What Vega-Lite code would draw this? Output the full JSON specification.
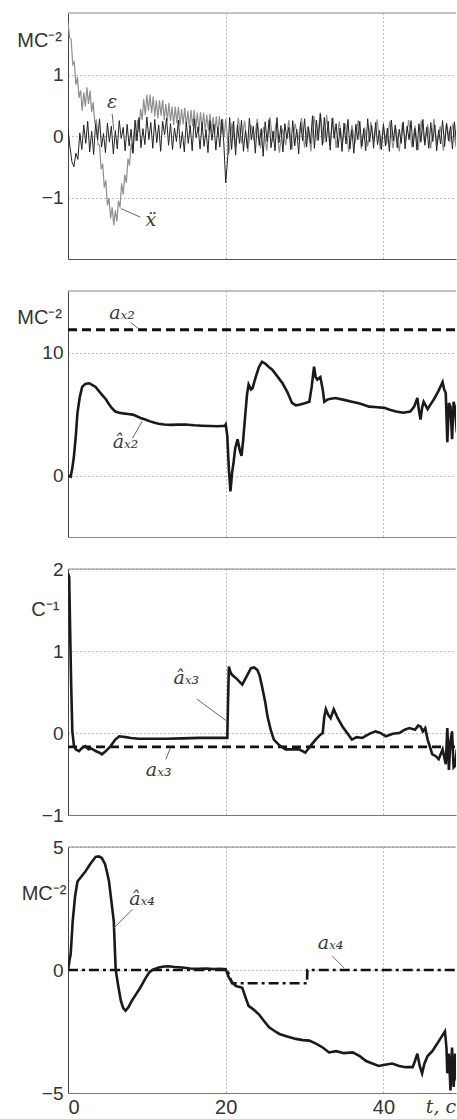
{
"$schema": "https://vega.github.io/schema/vega-lite/v6.json",
"padding": {"left": 17, "top": 12, "right": 0, "bottom": 0},
"autosize": {"type": "pad"},
"bounds": "flush",
"spacing": 32,
"config": {
  "view": {"stroke": null},
  "axis": {"grid": true, "gridDash": [1, 3], "gridColor": "#7a7a7a", "gridOpacity": 1, "gridWidth": 1, "ticks": false, "domainColor": "#444", "domainWidth": 1, "labelFont": "Liberation Sans", "labelFontSize": 19, "labelColor": "#333", "labelPadding": 5, "title": null}
},
"datasets": {
  "eps": [
{"t":0,"v":0.12},{"t":0.25,"v":-0.18},{"t":0.5,"v":-0.42},{"t":0.75,"v":-0.5},{"t":1,"v":-0.28},{"t":1.25,"v":-0.38},{"t":1.5,"v":0.05},{"t":1.75,"v":-0.22},{"t":2,"v":0.18},{"t":2.25,"v":-0.12},
{"t":2.5,"v":0.24},{"t":2.75,"v":-0.26},{"t":3,"v":0.08},{"t":3.25,"v":-0.3},{"t":3.5,"v":0.2},{"t":3.75,"v":-0.06},{"t":4,"v":0.28},{"t":4.25,"v":-0.18},{"t":4.5,"v":0.04},{"t":4.75,"v":-0.27},
{"t":5,"v":0.21},{"t":5.25,"v":-0.1},{"t":5.5,"v":0.16},{"t":5.75,"v":-0.29},{"t":6,"v":0.09},{"t":6.25,"v":-0.21},{"t":6.5,"v":0.25},{"t":6.75,"v":-0.04},{"t":7,"v":0.14},{"t":7.25,"v":-0.24},
{"t":7.5,"v":0.19},{"t":7.75,"v":-0.16},{"t":8,"v":0.11},{"t":8.25,"v":-0.28},{"t":8.5,"v":0.26},{"t":8.75,"v":-0.08},{"t":9,"v":0.3},{"t":9.25,"v":-0.19},{"t":9.5,"v":0.12},{"t":9.75,"v":-0.14},
{"t":10,"v":0.31},{"t":10.25,"v":-0.06},{"t":10.5,"v":0.22},{"t":10.75,"v":-0.2},{"t":11,"v":0.27},{"t":11.25,"v":-0.11},{"t":11.5,"v":0.18},{"t":11.75,"v":-0.25},{"t":12,"v":0.24},{"t":12.25,"v":0.02},
{"t":12.5,"v":0.29},{"t":12.75,"v":-0.15},{"t":13,"v":0.2},{"t":13.25,"v":-0.22},{"t":13.5,"v":0.13},{"t":13.75,"v":-0.09},{"t":14,"v":0.26},{"t":14.25,"v":-0.2},{"t":14.5,"v":0.07},{"t":14.75,"v":-0.26},
{"t":15,"v":0.23},{"t":15.25,"v":-0.12},{"t":15.5,"v":0.17},{"t":15.75,"v":-0.24},{"t":16,"v":0.28},{"t":16.25,"v":-0.03},{"t":16.5,"v":0.15},{"t":16.75,"v":-0.21},{"t":17,"v":0.22},{"t":17.25,"v":-0.17},
{"t":17.5,"v":0.1},{"t":17.75,"v":-0.27},{"t":18,"v":0.25},{"t":18.25,"v":-0.07},{"t":18.5,"v":0.19},{"t":18.75,"v":-0.23},{"t":19,"v":0.14},{"t":19.25,"v":-0.18},{"t":19.5,"v":0.27},{"t":19.75,"v":-0.1},
{"t":20,"v":-0.76},{"t":20.25,"v":-0.35},{"t":20.5,"v":0.3},{"t":20.75,"v":-0.22},{"t":21,"v":0.24},{"t":21.25,"v":-0.31},{"t":21.5,"v":0.18},{"t":21.75,"v":-0.12},{"t":22,"v":0.26},{"t":22.25,"v":-0.25},
{"t":22.5,"v":0.09},{"t":22.75,"v":-0.2},{"t":23,"v":0.29},{"t":23.25,"v":-0.06},{"t":23.5,"v":0.16},{"t":23.75,"v":-0.28},{"t":24,"v":0.21},{"t":24.25,"v":-0.15},{"t":24.5,"v":0.12},{"t":24.75,"v":-0.33},
{"t":25,"v":0.23},{"t":25.25,"v":-0.09},{"t":25.5,"v":0.27},{"t":25.75,"v":-0.19},{"t":26,"v":0.08},{"t":26.25,"v":-0.24},{"t":26.5,"v":0.3},{"t":26.75,"v":-0.11},{"t":27,"v":0.17},{"t":27.25,"v":-0.26},
{"t":27.5,"v":0.2},{"t":27.75,"v":-0.05},{"t":28,"v":0.14},{"t":28.25,"v":-0.22},{"t":28.5,"v":0.25},{"t":28.75,"v":-0.16},{"t":29,"v":0.11},{"t":29.25,"v":-0.29},{"t":29.5,"v":0.22},{"t":29.75,"v":-0.08},
{"t":30,"v":0.28},{"t":30.25,"v":-0.18},{"t":30.5,"v":0.15},{"t":30.75,"v":-0.12},{"t":31,"v":0.33},{"t":31.25,"v":-0.2},{"t":31.5,"v":0.26},{"t":31.75,"v":-0.07},{"t":32,"v":0.36},{"t":32.25,"v":-0.15},
{"t":32.5,"v":0.3},{"t":32.75,"v":-0.1},{"t":33,"v":0.24},{"t":33.25,"v":-0.23},{"t":33.5,"v":0.29},{"t":33.75,"v":-0.04},{"t":34,"v":0.2},{"t":34.25,"v":-0.19},{"t":34.5,"v":0.13},{"t":34.75,"v":-0.25},
{"t":35,"v":0.21},{"t":35.25,"v":-0.13},{"t":35.5,"v":0.27},{"t":35.75,"v":-0.21},{"t":36,"v":0.1},{"t":36.25,"v":-0.28},{"t":36.5,"v":0.19},{"t":36.75,"v":-0.06},{"t":37,"v":0.24},{"t":37.25,"v":-0.17},
{"t":37.5,"v":0.12},{"t":37.75,"v":-0.24},{"t":38,"v":0.28},{"t":38.25,"v":-0.1},{"t":38.5,"v":0.17},{"t":38.75,"v":-0.2},{"t":39,"v":0.22},{"t":39.25,"v":-0.14},{"t":39.5,"v":0.09},{"t":39.75,"v":-0.22},
{"t":40,"v":0.2},{"t":40.25,"v":-0.16},{"t":40.5,"v":0.13},{"t":40.75,"v":-0.25},{"t":41,"v":0.26},{"t":41.25,"v":-0.08},{"t":41.5,"v":0.18},{"t":41.75,"v":-0.19},{"t":42,"v":0.11},{"t":42.25,"v":-0.12},
{"t":42.5,"v":0.23},{"t":42.75,"v":-0.21},{"t":43,"v":0.16},{"t":43.25,"v":-0.06},{"t":43.5,"v":0.25},{"t":43.75,"v":-0.18},{"t":44,"v":0.12},{"t":44.25,"v":-0.23},{"t":44.5,"v":0.2},{"t":44.75,"v":-0.1},
{"t":45,"v":0.27},{"t":45.25,"v":-0.15},{"t":45.5,"v":0.14},{"t":45.75,"v":-0.2},{"t":46,"v":0.22},{"t":46.25,"v":-0.09},{"t":46.5,"v":0.18},{"t":46.75,"v":-0.24},{"t":47,"v":0.1},{"t":47.25,"v":-0.13},
{"t":47.5,"v":0.25},{"t":47.75,"v":-0.17},{"t":48,"v":0.2},{"t":48.25,"v":-0.08},{"t":48.5,"v":0.16},{"t":48.75,"v":-0.21},{"t":49,"v":0.23},{"t":49.25,"v":-0.11}
  ],
  "xdd": [
{"t":0,"v":1.85},{"t":0.2,"v":1.6},{"t":0.4,"v":1.57},{"t":0.6,"v":1.16},{"t":0.8,"v":1.2},{"t":1,"v":0.83},{"t":1.2,"v":0.96},{"t":1.4,"v":0.62},{"t":1.6,"v":0.74},{"t":1.8,"v":0.41},
{"t":2,"v":0.71},{"t":2.2,"v":0.48},{"t":2.4,"v":0.79},{"t":2.6,"v":0.52},{"t":2.8,"v":0.74},{"t":3,"v":0.39},{"t":3.2,"v":0.55},{"t":3.4,"v":0.2},{"t":3.6,"v":0.27},{"t":3.8,"v":-0.14},
{"t":4,"v":-0.15},{"t":4.2,"v":-0.54},{"t":4.4,"v":-0.45},{"t":4.6,"v":-0.84},{"t":4.8,"v":-0.72},{"t":5,"v":-1.13},{"t":5.2,"v":-1.01},{"t":5.4,"v":-1.34},{"t":5.6,"v":-1.16},{"t":5.8,"v":-1.45},
{"t":6,"v":-1.21},{"t":6.2,"v":-1.39},{"t":6.4,"v":-1.05},{"t":6.6,"v":-1.16},{"t":6.8,"v":-0.77},{"t":7,"v":-0.95},{"t":7.2,"v":-0.63},{"t":7.4,"v":-0.76},{"t":7.6,"v":-0.37},{"t":7.8,"v":-0.48},
{"t":8,"v":-0.12},{"t":8.2,"v":-0.28},{"t":8.4,"v":0.1},{"t":8.6,"v":-0.08},{"t":8.8,"v":0.26},{"t":9,"v":0.07},{"t":9.2,"v":0.44},{"t":9.4,"v":0.26},{"t":9.6,"v":0.6},{"t":9.8,"v":0.34},
{"t":10,"v":0.67},{"t":10.2,"v":0.41},{"t":10.4,"v":0.67},{"t":10.6,"v":0.37},{"t":10.8,"v":0.64},{"t":11,"v":0.32},{"t":11.2,"v":0.58},{"t":11.4,"v":0.29},{"t":11.6,"v":0.58},{"t":11.8,"v":0.33},
{"t":12,"v":0.59},{"t":12.2,"v":0.26},{"t":12.4,"v":0.52},{"t":12.6,"v":0.25},{"t":12.8,"v":0.54},{"t":13,"v":0.24},{"t":13.2,"v":0.48},{"t":13.4,"v":0.18},{"t":13.6,"v":0.48},{"t":13.8,"v":0.21},
{"t":14,"v":0.48},{"t":14.2,"v":0.17},{"t":14.4,"v":0.44},{"t":14.6,"v":0.19},{"t":14.8,"v":0.46},{"t":15,"v":0.16},{"t":15.2,"v":0.41},{"t":15.4,"v":0.13},{"t":15.6,"v":0.42},{"t":15.8,"v":0.16},
{"t":16,"v":0.42},{"t":16.2,"v":0.12},{"t":16.4,"v":0.38},{"t":16.6,"v":0.08},{"t":16.8,"v":0.39},{"t":17,"v":0.12},{"t":17.2,"v":0.38},{"t":17.4,"v":0.08},{"t":17.6,"v":0.35},{"t":17.8,"v":0.09},
{"t":18,"v":0.36},{"t":18.2,"v":0.06},{"t":18.4,"v":0.31},{"t":18.6,"v":0.03},{"t":18.8,"v":0.32},{"t":19,"v":0.05},{"t":19.2,"v":0.32},{"t":19.4,"v":0.02},{"t":19.6,"v":0.27},{"t":19.8,"v":-0.02},
{"t":20,"v":0.28},{"t":20.4,"v":-0.3},{"t":20.8,"v":0.22},{"t":21.2,"v":-0.18},{"t":21.6,"v":0.3},{"t":22,"v":-0.12},{"t":22.4,"v":0.25},{"t":22.8,"v":-0.26},{"t":23.2,"v":0.18},{"t":23.6,"v":-0.08},
{"t":24,"v":0.28},{"t":24.4,"v":-0.2},{"t":24.8,"v":0.15},{"t":25.2,"v":-0.24},{"t":25.6,"v":0.31},{"t":26,"v":-0.1},{"t":26.4,"v":0.22},{"t":26.8,"v":-0.27},{"t":27.2,"v":0.12},{"t":27.6,"v":-0.15},
{"t":28,"v":0.26},{"t":28.4,"v":-0.22},{"t":28.8,"v":0.2},{"t":29.2,"v":-0.06},{"t":29.6,"v":0.29},{"t":30,"v":-0.19},{"t":30.4,"v":0.16},{"t":30.8,"v":-0.25},{"t":31.2,"v":0.33},{"t":31.6,"v":-0.08},
{"t":32,"v":0.38},{"t":32.4,"v":-0.12},{"t":32.8,"v":0.34},{"t":33.2,"v":-0.16},{"t":33.6,"v":0.3},{"t":34,"v":-0.2},{"t":34.4,"v":0.24},{"t":34.8,"v":-0.1},{"t":35.2,"v":0.2},{"t":35.6,"v":-0.26},
{"t":36,"v":0.18},{"t":36.4,"v":-0.12},{"t":36.8,"v":0.26},{"t":37.2,"v":-0.21},{"t":37.6,"v":0.14},{"t":38,"v":-0.17},{"t":38.4,"v":0.23},{"t":38.8,"v":-0.09},{"t":39.2,"v":0.27},{"t":39.6,"v":-0.22},
{"t":40,"v":0.15},{"t":40.4,"v":-0.14},{"t":40.8,"v":0.24},{"t":41.2,"v":-0.2},{"t":41.6,"v":0.12},{"t":42,"v":-0.25},{"t":42.4,"v":0.21},{"t":42.8,"v":-0.07},{"t":43.2,"v":0.26},{"t":43.6,"v":-0.18},
{"t":44,"v":0.17},{"t":44.4,"v":-0.23},{"t":44.8,"v":0.25},{"t":45.2,"v":-0.11},{"t":45.6,"v":0.19},{"t":46,"v":-0.2},{"t":46.4,"v":0.28},{"t":46.8,"v":-0.14},{"t":47.2,"v":0.16},{"t":47.6,"v":-0.24},
{"t":48,"v":0.22},{"t":48.4,"v":-0.1},{"t":48.8,"v":0.2},{"t":49.2,"v":-0.18}
  ],
  "a2": [
{"t":0,"v":0},{"t":0.34,"v":-0.1},{"t":0.55,"v":0.6},{"t":0.76,"v":1.6},{"t":1,"v":3.3},{"t":1.2,"v":5.1},{"t":1.5,"v":6.4},{"t":1.8,"v":7.2},{"t":2.2,"v":7.45},{"t":2.7,"v":7.5},
{"t":3.1,"v":7.35},{"t":3.5,"v":7.2},{"t":4,"v":6.8},{"t":4.4,"v":6.5},{"t":4.8,"v":6.2},{"t":5.2,"v":5.8},{"t":5.6,"v":5.45},{"t":6,"v":5.2},{"t":6.5,"v":5.1},{"t":7,"v":5.05},
{"t":7.6,"v":5},{"t":8.2,"v":4.95},{"t":8.8,"v":4.8},{"t":9.3,"v":4.65},{"t":9.8,"v":4.55},{"t":10.4,"v":4.4},{"t":11,"v":4.28},{"t":11.5,"v":4.2},{"t":12.2,"v":4.15},{"t":13,"v":4.12},
{"t":14,"v":4.14},{"t":14.9,"v":4.15},{"t":16,"v":4.08},{"t":17,"v":4.05},{"t":18,"v":4.02},{"t":19,"v":4},{"t":19.9,"v":4.05},{"t":20,"v":4.15},{"t":20.2,"v":3.2},{"t":20.4,"v":0.5},
{"t":20.6,"v":-1.3},{"t":20.8,"v":0.2},{"t":21,"v":1.1},{"t":21.2,"v":2.2},{"t":21.5,"v":2.95},{"t":21.8,"v":2},{"t":22,"v":1.6},{"t":22.2,"v":2.8},{"t":22.5,"v":5.1},{"t":22.7,"v":6.6},
{"t":22.9,"v":7.4},{"t":23.2,"v":7},{"t":23.4,"v":7.1},{"t":23.8,"v":8},{"t":24.2,"v":8.8},{"t":24.6,"v":9.25},{"t":25,"v":9.1},{"t":25.5,"v":8.8},{"t":25.9,"v":8.6},{"t":26.5,"v":8.1},
{"t":27.2,"v":7.5},{"t":27.8,"v":6.8},{"t":28.4,"v":5.9},{"t":28.9,"v":5.7},{"t":29.3,"v":5.75},{"t":29.9,"v":5.85},{"t":30.6,"v":6},{"t":30.9,"v":7.2},{"t":31.2,"v":8.85},{"t":31.4,"v":8},
{"t":31.6,"v":7.8},{"t":32,"v":8},{"t":32.3,"v":7},{"t":32.5,"v":6},{"t":33,"v":6.2},{"t":33.9,"v":6.3},{"t":35,"v":6.15},{"t":36,"v":6},{"t":37,"v":5.85},{"t":38.2,"v":5.6},
{"t":39.2,"v":5.55},{"t":40.1,"v":5.5},{"t":40.8,"v":5.35},{"t":41.6,"v":5.2},{"t":42.5,"v":5.1},{"t":43.4,"v":5.2},{"t":43.9,"v":5.6},{"t":44.3,"v":6.3},{"t":44.5,"v":5.3},{"t":44.7,"v":4.55},
{"t":44.9,"v":5.5},{"t":45.1,"v":6},{"t":45.6,"v":5.4},{"t":46,"v":5.8},{"t":46.4,"v":6.2},{"t":47,"v":6.9},{"t":47.5,"v":7.6},{"t":47.7,"v":7},{"t":47.9,"v":6.7},{"t":48.1,"v":2.7},
{"t":48.3,"v":5.9},{"t":48.5,"v":5.6},{"t":48.7,"v":2.95},{"t":48.9,"v":6},{"t":49.1,"v":5.4},{"t":49.3,"v":3.5}
  ],
  "a3": [
{"t":0,"v":1.95},{"t":0.15,"v":1.9},{"t":0.3,"v":1.1},{"t":0.4,"v":0.6},{"t":0.55,"v":0.02},{"t":0.76,"v":-0.16},{"t":1,"v":-0.2},{"t":1.4,"v":-0.22},{"t":1.8,"v":-0.18},{"t":2.2,"v":-0.16},
{"t":2.6,"v":-0.2},{"t":3,"v":-0.19},{"t":3.5,"v":-0.22},{"t":4,"v":-0.24},{"t":4.3,"v":-0.26},{"t":4.8,"v":-0.22},{"t":5.4,"v":-0.16},{"t":6,"v":-0.08},{"t":6.5,"v":-0.04},{"t":7.3,"v":-0.05},
{"t":8,"v":-0.06},{"t":9,"v":-0.07},{"t":10.5,"v":-0.07},{"t":12.4,"v":-0.07},{"t":14.5,"v":-0.065},{"t":16.6,"v":-0.06},{"t":18.5,"v":-0.06},{"t":20,"v":-0.06},{"t":20.2,"v":-0.06},{"t":20.3,"v":0.4},
{"t":20.4,"v":0.81},{"t":20.6,"v":0.74},{"t":20.8,"v":0.71},{"t":21.4,"v":0.66},{"t":22.1,"v":0.59},{"t":22.7,"v":0.7},{"t":23.2,"v":0.79},{"t":23.6,"v":0.8},{"t":24,"v":0.77},{"t":24.3,"v":0.7},
{"t":24.6,"v":0.57},{"t":25,"v":0.38},{"t":25.3,"v":0.2},{"t":25.7,"v":0.04},{"t":26.1,"v":-0.08},{"t":26.8,"v":-0.15},{"t":27.6,"v":-0.2},{"t":28.5,"v":-0.2},{"t":29.3,"v":-0.2},{"t":30.1,"v":-0.24},
{"t":30.8,"v":-0.15},{"t":31.4,"v":-0.08},{"t":32,"v":-0.02},{"t":32.3,"v":0},{"t":32.5,"v":0.2},{"t":32.7,"v":0.29},{"t":33,"v":0.22},{"t":33.3,"v":0.18},{"t":33.7,"v":0.29},{"t":34.2,"v":0.18},
{"t":34.8,"v":0.08},{"t":35.4,"v":0},{"t":36,"v":-0.08},{"t":36.6,"v":-0.05},{"t":37.3,"v":-0.06},{"t":38.2,"v":-0.01},{"t":39,"v":0.02},{"t":39.6,"v":0},{"t":40.3,"v":-0.04},{"t":41.2,"v":-0.01},
{"t":42,"v":0},{"t":42.7,"v":0.04},{"t":43.3,"v":0.06},{"t":44,"v":0.04},{"t":44.4,"v":0.09},{"t":44.7,"v":0.08},{"t":45,"v":0.02},{"t":45.3,"v":0.06},{"t":45.6,"v":-0.08},{"t":46.2,"v":-0.26},
{"t":46.6,"v":-0.28},{"t":47,"v":-0.32},{"t":47.5,"v":-0.2},{"t":47.9,"v":-0.38},{"t":48.1,"v":0.06},{"t":48.3,"v":-0.45},{"t":48.5,"v":-0.1},{"t":48.7,"v":0.02},{"t":48.9,"v":-0.42},{"t":49.1,"v":-0.4},
{"t":49.3,"v":-0.2}
  ],
  "a4": [
{"t":0,"v":0},{"t":0.2,"v":0.4},{"t":0.34,"v":0.65},{"t":0.6,"v":2},{"t":0.9,"v":3},{"t":1.2,"v":3.6},{"t":1.7,"v":3.8},{"t":2.2,"v":4},{"t":2.8,"v":4.3},{"t":3.5,"v":4.6},
{"t":3.9,"v":4.62},{"t":4.3,"v":4.55},{"t":4.7,"v":4.3},{"t":5,"v":3.9},{"t":5.2,"v":3.6},{"t":5.5,"v":2.8},{"t":5.8,"v":2},{"t":6.05,"v":0},{"t":6.4,"v":-0.7},{"t":6.7,"v":-1.25},
{"t":7,"v":-1.55},{"t":7.3,"v":-1.66},{"t":7.7,"v":-1.5},{"t":8.1,"v":-1.25},{"t":8.6,"v":-1},{"t":9.2,"v":-0.7},{"t":9.8,"v":-0.35},{"t":10.3,"v":-0.1},{"t":10.7,"v":0},{"t":11.5,"v":0.1},
{"t":12.2,"v":0.14},{"t":12.8,"v":0.15},{"t":13.5,"v":0.12},{"t":14.5,"v":0.1},{"t":15.5,"v":0.06},{"t":16.6,"v":0.05},{"t":17.5,"v":0.06},{"t":18.5,"v":0.04},{"t":19.3,"v":0.05},{"t":20,"v":0.03},
{"t":20.4,"v":-0.3},{"t":20.8,"v":-0.5},{"t":21.3,"v":-0.65},{"t":22.1,"v":-0.72},{"t":22.5,"v":-1.1},{"t":22.9,"v":-1.46},{"t":23.5,"v":-1.6},{"t":24.2,"v":-1.8},{"t":24.8,"v":-2.05},{"t":25.5,"v":-2.33},
{"t":26.2,"v":-2.48},{"t":26.8,"v":-2.6},{"t":27.8,"v":-2.7},{"t":28.9,"v":-2.8},{"t":29.8,"v":-2.85},{"t":30.6,"v":-2.87},{"t":31.5,"v":-3},{"t":32.3,"v":-3.15},{"t":33.1,"v":-3.35},{"t":34,"v":-3.3},
{"t":35,"v":-3.38},{"t":36.1,"v":-3.35},{"t":37,"v":-3.5},{"t":37.8,"v":-3.7},{"t":38.6,"v":-3.8},{"t":39.4,"v":-3.9},{"t":40.2,"v":-3.85},{"t":41.1,"v":-3.8},{"t":42,"v":-3.9},{"t":42.8,"v":-3.95},
{"t":43.7,"v":-3.95},{"t":44,"v":-3.7},{"t":44.3,"v":-3.4},{"t":44.6,"v":-3.9},{"t":44.9,"v":-4.2},{"t":45.2,"v":-3.8},{"t":45.6,"v":-3.5},{"t":46.2,"v":-3.3},{"t":46.6,"v":-3.1},{"t":47,"v":-2.9},
{"t":47.4,"v":-2.7},{"t":47.8,"v":-2.5},{"t":48,"v":-3.2},{"t":48.1,"v":-4.2},{"t":48.3,"v":-3.4},{"t":48.5,"v":-4.9},{"t":48.7,"v":-3.15},{"t":48.9,"v":-4.75},{"t":49.1,"v":-3.4},{"t":49.3,"v":-4.5}
  ],
  "refs": [
{"p":2,"t":0,"v":11.85},{"p":2,"t":49.2,"v":11.85},
{"p":3,"t":0,"v":-0.17},{"p":3,"t":49.2,"v":-0.17},
{"p":4,"t":0,"v":0},{"p":4,"t":20.2,"v":0},{"p":4,"t":20.8,"v":-0.54},{"p":4,"t":30.3,"v":-0.54},{"p":4,"t":30.35,"v":0},{"p":4,"t":49.2,"v":0}
  ],
  "frame": [
{"p":1,"t":0,"t2":49.2,"v":2},{"p":2,"t":0,"t2":49.2,"v":15},{"p":3,"t":0,"t2":49.2,"v":2},{"p":4,"t":0,"t2":49.2,"v":5}
  ],
  "leaders": [
{"p":1,"t":5.6,"v":0.36,"t2":5.8,"v2":0.1},{"p":1,"t":6.7,"v":-1.18,"t2":9.2,"v2":-1.32},
{"p":2,"t":7.95,"v":12.45,"t2":9.0,"v2":11.9},{"p":2,"t":8.2,"v":3.05,"t2":9.4,"v2":4.4},
{"p":3,"t":16.4,"v":0.41,"t2":20.2,"v2":0.14},{"p":3,"t":12.4,"v":-0.32,"t2":13.0,"v2":-0.18},
{"p":4,"t":8.15,"v":2.46,"t2":5.8,"v2":1.7},{"p":4,"t":33.5,"v":0.57,"t2":35.0,"v2":0.09}
  ],
  "labels": [
{"p":1,"t":5.6,"v":0.55,"text":"ε"},{"p":1,"t":10.5,"v":-1.36,"text":"ẍ"},
{"p":2,"t":6.85,"v":13.2,"text":"aₓ₂"},{"p":2,"t":7.3,"v":2.7,"text":"âₓ₂"},
{"p":3,"t":15.0,"v":0.67,"text":"âₓ₃"},{"p":3,"t":11.5,"v":-0.45,"text":"aₓ₃"},
{"p":4,"t":9.4,"v":2.9,"text":"âₓ₄"},{"p":4,"t":33.3,"v":1.1,"text":"aₓ₄"},{"p":4,"t":47.3,"v":-5.55,"text":"t, с"}
  ],
  "units": [
{"p":1,"t":-0.76,"v":1.54,"text":"МС⁻²"},{"p":2,"t":-0.76,"v":12.8,"text":"МС⁻²"},{"p":3,"t":-1.1,"v":1.5,"text":"С⁻¹"},{"p":4,"t":-0.2,"v":3.08,"text":"МС⁻²"}
  ]
},
"vconcat": [
{
 "width": 388, "height": 246,
 "encoding": {
  "x": {"field": "t", "type": "quantitative", "scale": {"domain": [0, 49.2], "nice": false, "zero": false}, "axis": {"values": [0, 20, 40], "labels": false, "domainColor": "#555"}},
  "y": {"field": "v", "type": "quantitative", "scale": {"domain": [-2, 2], "nice": false, "zero": false}, "axis": {"values": [-1, 0, 1]}}
 },
 "layer": [
  {"data": {"name": "frame"}, "transform": [{"filter": "datum.p == 1"}], "mark": {"type": "rule", "color": "#888", "strokeWidth": 1}, "encoding": {"x2": {"field": "t2"}}},
  {"data": {"name": "xdd"}, "mark": {"type": "line", "color": "#8f8f8f", "strokeWidth": 1.2, "clip": true}},
  {"data": {"name": "eps"}, "mark": {"type": "line", "color": "#222", "strokeWidth": 1, "clip": true}},
  {"data": {"name": "leaders"}, "transform": [{"filter": "datum.p == 1"}], "mark": {"type": "rule", "color": "#666", "strokeWidth": 1}, "encoding": {"x2": {"field": "t2"}, "y2": {"field": "v2"}}},
  {"data": {"name": "labels"}, "transform": [{"filter": "datum.p == 1"}], "mark": {"type": "text", "font": "DejaVu Serif", "fontStyle": "italic", "fontSize": 19, "color": "#3a3a3a"}, "encoding": {"text": {"field": "text"}}},
  {"data": {"name": "units"}, "transform": [{"filter": "datum.p == 1"}], "mark": {"type": "text", "align": "right", "font": "Liberation Sans", "fontSize": 20, "color": "#333"}, "encoding": {"text": {"field": "text"}}}
 ]
},
{
 "width": 388, "height": 246,
 "encoding": {
  "x": {"field": "t", "type": "quantitative", "scale": {"domain": [0, 49.2], "nice": false, "zero": false}, "axis": {"values": [0, 20, 40], "labels": false, "domainColor": "#888"}},
  "y": {"field": "v", "type": "quantitative", "scale": {"domain": [-5, 15], "nice": false, "zero": false}, "axis": {"values": [0, 10]}}
 },
 "layer": [
  {"data": {"name": "frame"}, "transform": [{"filter": "datum.p == 2"}], "mark": {"type": "rule", "color": "#888", "strokeWidth": 1}, "encoding": {"x2": {"field": "t2"}}},
  {"data": {"name": "refs"}, "transform": [{"filter": "datum.p == 2"}], "mark": {"type": "line", "color": "#111", "strokeWidth": 2.8, "strokeDash": [9, 5], "clip": true}},
  {"data": {"name": "a2"}, "mark": {"type": "line", "color": "#1a1a1a", "strokeWidth": 2.6, "clip": true}},
  {"data": {"name": "leaders"}, "transform": [{"filter": "datum.p == 2"}], "mark": {"type": "rule", "color": "#666", "strokeWidth": 1}, "encoding": {"x2": {"field": "t2"}, "y2": {"field": "v2"}}},
  {"data": {"name": "labels"}, "transform": [{"filter": "datum.p == 2"}], "mark": {"type": "text", "font": "DejaVu Serif", "fontStyle": "italic", "fontSize": 19, "color": "#3a3a3a"}, "encoding": {"text": {"field": "text"}}},
  {"data": {"name": "units"}, "transform": [{"filter": "datum.p == 2"}], "mark": {"type": "text", "align": "right", "font": "Liberation Sans", "fontSize": 20, "color": "#333"}, "encoding": {"text": {"field": "text"}}}
 ]
},
{
 "width": 388, "height": 246,
 "encoding": {
  "x": {"field": "t", "type": "quantitative", "scale": {"domain": [0, 49.2], "nice": false, "zero": false}, "axis": {"values": [0, 20, 40], "labels": false, "domainColor": "#777"}},
  "y": {"field": "v", "type": "quantitative", "scale": {"domain": [-1, 2], "nice": false, "zero": false}, "axis": {"values": [-1, 0, 1, 2]}}
 },
 "layer": [
  {"data": {"name": "frame"}, "transform": [{"filter": "datum.p == 3"}], "mark": {"type": "rule", "color": "#888", "strokeWidth": 1}, "encoding": {"x2": {"field": "t2"}}},
  {"data": {"name": "refs"}, "transform": [{"filter": "datum.p == 3"}], "mark": {"type": "line", "color": "#111", "strokeWidth": 2.8, "strokeDash": [9, 5], "clip": true}},
  {"data": {"name": "a3"}, "mark": {"type": "line", "color": "#1a1a1a", "strokeWidth": 2.6, "clip": true}},
  {"data": {"name": "leaders"}, "transform": [{"filter": "datum.p == 3"}], "mark": {"type": "rule", "color": "#666", "strokeWidth": 1}, "encoding": {"x2": {"field": "t2"}, "y2": {"field": "v2"}}},
  {"data": {"name": "labels"}, "transform": [{"filter": "datum.p == 3"}], "mark": {"type": "text", "font": "DejaVu Serif", "fontStyle": "italic", "fontSize": 19, "color": "#3a3a3a"}, "encoding": {"text": {"field": "text"}}},
  {"data": {"name": "units"}, "transform": [{"filter": "datum.p == 3"}], "mark": {"type": "text", "align": "right", "font": "Liberation Sans", "fontSize": 20, "color": "#333"}, "encoding": {"text": {"field": "text"}}}
 ]
},
{
 "width": 388, "height": 246,
 "encoding": {
  "x": {"field": "t", "type": "quantitative", "scale": {"domain": [0, 49.2], "nice": false, "zero": false}, "axis": {"values": [0, 20, 40], "labels": true, "labelFontSize": 20, "labelPadding": 4, "domainColor": "#777"}},
  "y": {"field": "v", "type": "quantitative", "scale": {"domain": [-5, 5], "nice": false, "zero": false}, "axis": {"values": [-5, 0, 5]}}
 },
 "layer": [
  {"data": {"name": "frame"}, "transform": [{"filter": "datum.p == 4"}], "mark": {"type": "rule", "color": "#888", "strokeWidth": 1}, "encoding": {"x2": {"field": "t2"}}},
  {"data": {"name": "refs"}, "transform": [{"filter": "datum.p == 4"}], "mark": {"type": "line", "color": "#111", "strokeWidth": 2.6, "strokeDash": [10, 4, 3, 4], "clip": true}},
  {"data": {"name": "a4"}, "mark": {"type": "line", "color": "#1a1a1a", "strokeWidth": 2.6, "clip": true}},
  {"data": {"name": "leaders"}, "transform": [{"filter": "datum.p == 4"}], "mark": {"type": "rule", "color": "#666", "strokeWidth": 1}, "encoding": {"x2": {"field": "t2"}, "y2": {"field": "v2"}}},
  {"data": {"name": "labels"}, "transform": [{"filter": "datum.p == 4"}], "mark": {"type": "text", "font": "DejaVu Serif", "fontStyle": "italic", "fontSize": 19, "color": "#3a3a3a"}, "encoding": {"text": {"field": "text"}}},
  {"data": {"name": "units"}, "transform": [{"filter": "datum.p == 4"}], "mark": {"type": "text", "align": "right", "font": "Liberation Sans", "fontSize": 20, "color": "#333"}, "encoding": {"text": {"field": "text"}}}
 ]
}
]
}
